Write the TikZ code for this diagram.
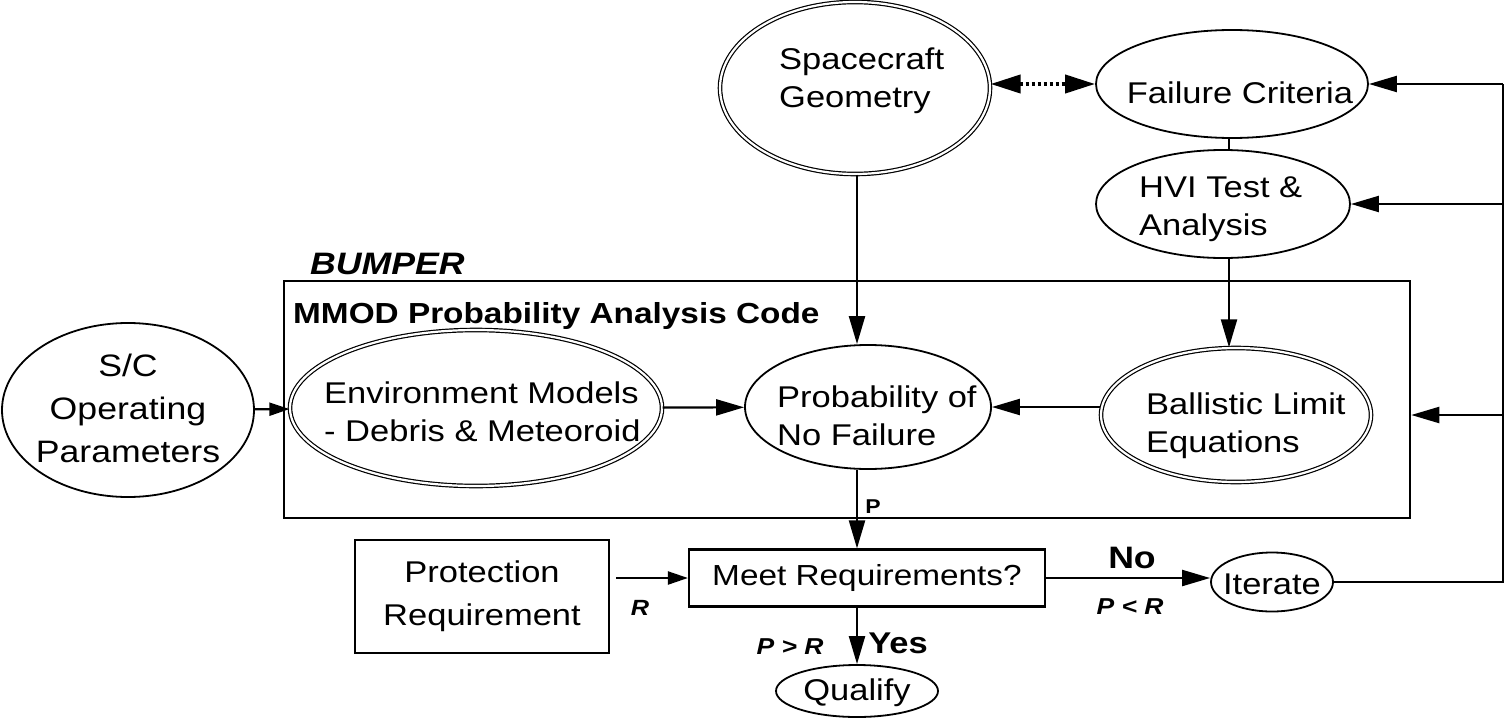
\documentclass[tikz,border=0pt]{standalone}
\usepackage{fontspec}
\setmainfont{Liberation Sans}[FakeStretch=1.15]
\usetikzlibrary{arrows.meta,shapes.geometric,calc}
\begin{document}
\begin{tikzpicture}[x=1pt,y=-1pt,
  ell/.style={ellipse, draw, line width=1.8pt, inner sep=0pt},
  dell/.style={ellipse, draw, double, double distance=2.2pt, line width=1.2pt, inner sep=0pt},
  txt/.style={font=\fontsize{30}{38}\selectfont, align=left, inner sep=0pt},
  boxn/.style={draw, line width=2.2pt, inner sep=0pt, font=\fontsize{30}{43}\selectfont, align=center},
  arr/.style={line width=2.2pt, -{Triangle[length=28pt,width=16pt]}},
  sarr/.style={line width=2.2pt, -{Triangle[length=20pt,width=13pt]}},
  ln/.style={line width=2.2pt},
  dotarr/.style={line width=4pt, dash pattern=on 3.5pt off 2.5pt, {Triangle[length=30pt,width=18pt]}-{Triangle[length=30pt,width=18pt]}},
  lab/.style={inner sep=0pt, font=\fontsize{#1}{#1}\selectfont\bfseries},
  ilab/.style={inner sep=0pt, font=\fontsize{#1}{#1}\selectfont\bfseries\itshape}
]
\useasboundingbox (0,0) rectangle (1506,717);

% axes for straight connectors
\coordinate (ax) at (857,0);
\coordinate (ax2) at (1229,0);
\coordinate (rt) at (1503,84);
\coordinate (rb) at (1503,582);

% top nodes
\node[dell, minimum width=270pt, minimum height=172pt] (sg) at (855,88) {};
\node[txt, anchor=west] (sgt) at (779,81) {Spacecraft\\Geometry};
\node[ell, minimum width=272pt, minimum height=108pt] (fc) at (1232,84) {};
\node[txt] (fct) at (1240,93) {Failure Criteria};
\node[ell, minimum width=254pt, minimum height=108pt] (hvi) at (1223,204) {};
\node[txt, anchor=west] (hvit) at (1139,209) {HVI Test \&\\Analysis};

% BUMPER box
\node[draw, line width=2.5pt, minimum width=1126pt, minimum height=237pt, inner sep=0pt] (bx) at (847,399.5) {};
\node[ilab=31, anchor=west] (bt) at (310,264) {BUMPER};
\node[lab=29, anchor=west] (mt) at (293,316) {MMOD Probability Analysis Code};

% middle row
\node[ell, minimum width=252pt, minimum height=174pt] (sc) at (128,410) {};
\node[txt, align=center, font=\fontsize{31}{43}\selectfont] (sct) at (128,408) {S/C\\Operating\\Parameters};
\node[dell, minimum width=372pt, minimum height=156pt] (env) at (476,408) {};
\node[txt, anchor=west] (envt) at (324,412) {Environment Models\\- Debris \& Meteoroid};
\node[ell, minimum width=246pt, minimum height=124pt] (pnf) at (868,407) {};
\node[txt, anchor=west] (pnft) at (777,416) {Probability of\\No Failure};
\node[dell, minimum width=270pt, minimum height=134pt] (bl) at (1236,415) {};
\node[txt, anchor=west] (blt) at (1146,426) {Ballistic Limit\\Equations};

% bottom
\node[boxn, minimum width=356pt, minimum height=57pt, font=\fontsize{29}{34}\selectfont] (mr) at (867,578) {Meet Requirements?};
\node[boxn, minimum width=254pt, minimum height=113pt] (pr) at (482,596.5) {Protection\\Requirement};
\node[ell, minimum width=122pt, minimum height=59pt] (it) at (1272,582) {};
\node[txt] (itt) at (1272,584) {Iterate};
\node[ell, minimum width=162pt, minimum height=52pt] (q) at (857,691) {};
\node[txt] (qt) at (857,693) {Qualify};

% labels
\node[lab=20] (lp) at (873,507) {P};
\node[ilab=22] (lr) at (640,608) {R};
\node[lab=31] (lno) at (1132,558) {No};
\node[ilab=23] (lpr1) at (1130,607) {P < R};
\node[ilab=23] (lpr2) at (790,647) {P > R};
\node[lab=30] (lyes) at (898,643) {Yes};

% connectors
\draw[dotarr] (sg.east |- fc) -- (fc.west);
\draw[arr] (sg.south -| ax) -- (pnf.north -| ax);
\draw[ln] (fc.south -| ax2) -- (hvi.north -| ax2);
\draw[arr] (hvi.south -| ax2) -- (bl.north -| ax2);
\draw[sarr] (sc) -- (env);
\draw[arr] (env) -- (pnf);
\draw[arr] (bl.west |- pnf) -- (pnf.east);
\draw[arr] (pnf.south -| ax) -- (mr.north -| ax);
\draw[sarr] ([xshift=6pt]pr.east |- mr.west) -- (mr.west);
\draw[arr] (mr.east) -- (mr.east -| it.west);
\draw[arr] (mr.south -| ax) -- (q.north);
\draw[ln] (it.east) -- (rb) -- (rt);
\draw[arr] (rt) -- (rt -| fc.east);
\draw[arr] (rt |- hvi) -- (hvi.east);
\draw[arr] (rt |- bl) -- (bx.east |- bl);
\end{tikzpicture}
\end{document}
